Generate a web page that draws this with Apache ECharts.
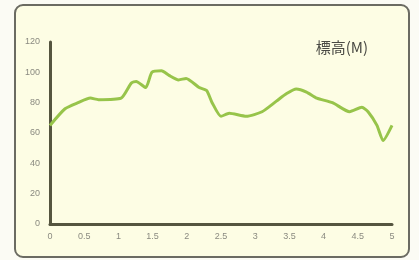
<!DOCTYPE html>
<html>
<head>
<meta charset="utf-8">
<script src="https://cdn.jsdelivr.net/npm/echarts@6/dist/echarts.min.js"></script>
<style>
  html, body { margin: 0; padding: 0; background: #fbfbf4; }
  #chartBox { width: 419px; height: 260px; }
</style>
</head>
<body>
<div id="chartBox"></div>
<script>
  // 距離 (km) と 標高 (M)
  var distance = [0, 0.22, 0.41, 0.59, 0.71, 1.04, 1.19, 1.26, 1.4, 1.49, 1.63, 1.74, 1.88, 1.99,
    2.18, 2.29, 2.37, 2.5, 2.62, 2.87, 3.1, 3.31, 3.46, 3.6, 3.75, 3.9, 4.13, 4.38, 4.56, 4.65,
    4.78, 4.87, 5.0];
  var elevation = [65, 76, 80, 83, 82, 83, 93, 94, 90, 100, 101, 98, 95, 96,
    90, 88, 80, 71, 73, 71, 74, 81, 86, 89, 87, 83, 80, 74, 77, 74,
    65, 55, 65];
  var yTicks = [0, 20, 40, 60, 80, 100, 120];

  var chart = echarts.init(document.getElementById('chartBox'));

  var points = distance.map(function (d, i) { return [d, elevation[i]]; });

  var option = {
    backgroundColor: '#fbfbf4',
    animation: false,
    graphic: [
      {
        type: 'rect',
        shape: { x: 15, y: 5, width: 394, height: 252, r: 8 },
        style: { fill: '#fdfde4', stroke: '#6b6b62', lineWidth: 2 },
        z: -10
      }
    ],
    title: {
      text: '標高(M)',
      right: 46,
      top: 35,
      textStyle: {
        color: '#4a4a44',
        fontSize: 15,
        fontWeight: 'normal',
        fontFamily: 'Noto Sans CJK JP'
      }
    },
    grid: { left: 50, right: 27, top: 42, bottom: 36 },
    xAxis: {
      type: 'value',
      min: 0,
      max: 5,
      interval: 0.5,
      axisLine: { lineStyle: { color: '#55553f', width: 3 } },
      axisTick: { show: false },
      splitLine: { show: false },
      axisLabel: { color: '#8a8a80', fontSize: 9, margin: 8 }
    },
    yAxis: {
      type: 'value',
      min: yTicks[0],
      max: yTicks[yTicks.length - 1],
      interval: 20,
      axisLine: { show: true, lineStyle: { color: '#55553f', width: 3 } },
      axisTick: { show: false },
      splitLine: { show: false },
      axisLabel: { color: '#8a8a80', fontSize: 9, margin: 10 }
    },
    series: [
      {
        type: 'line',
        data: points,
        showSymbol: false,
        smooth: 0.2,
        lineStyle: { color: '#97c44a', width: 3 }
      }
    ]
  };

  chart.setOption(option);
</script>
</body>
</html>
